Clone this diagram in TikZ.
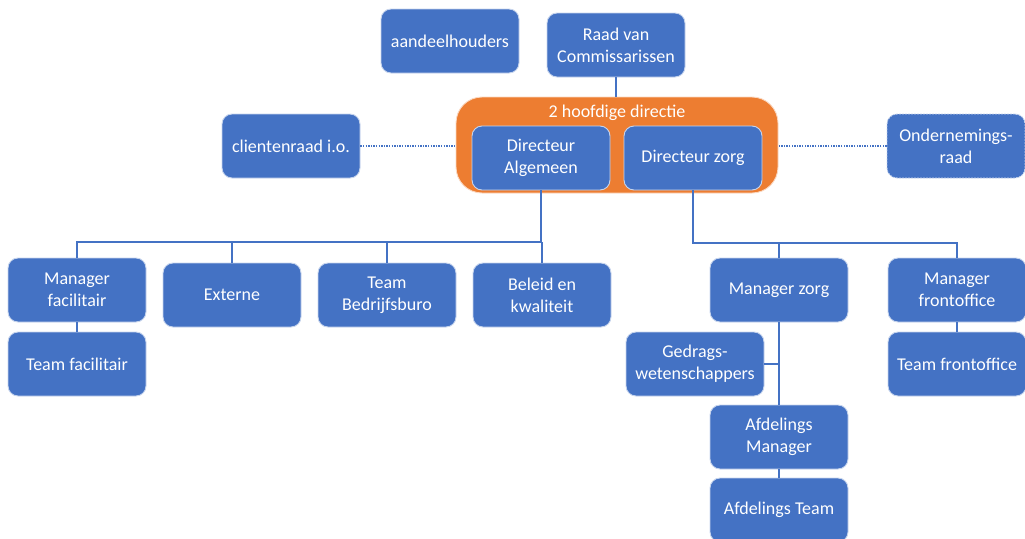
\documentclass[tikz,border=0pt]{standalone}
\usepackage{fontspec}
\setmainfont{Carlito}
\definecolor{obl}{HTML}{4472C4}
\definecolor{oor}{HTML}{ED7D31}
\begin{document}
\begin{tikzpicture}[x=1pt,y=-1pt,
  box/.style={rectangle, rounded corners=10pt, fill=obl, draw=white!70!obl, line width=0.9pt,
    minimum width=138pt, minimum height=64pt, inner sep=2pt, align=center,
    text=white, font=\fontsize{18}{22}\selectfont},
  link/.style={draw=obl, line width=1.2pt},
  dots/.style={draw=obl, line width=1.5pt, dash pattern=on 1.3pt off 1.3pt}]
\useasboundingbox (0,0) rectangle (1025,538);
% orange group
\node[rectangle, rounded corners=26pt, fill=oor, draw=white!70!oor, line width=0.9pt,
  minimum width=322pt, minimum height=96pt] (dir) at (617,145) {};
\node[text=white, font=\fontsize{18}{22}\selectfont, inner sep=0pt] (dirt) at (617,113) {2 hoofdige directie};
\node[box] (da) at (541,158) {Directeur\\Algemeen};
\node[box] (dz) at (693,158) {Directeur zorg};
% top
\node[box] (ah) at (450,41) {aandeelhouders};
\node[box] (rvc) at (616,45) {Raad van\\Commissarissen};
\node[box] (cr) at (291,146) {clientenraad i.o.};
\node[box, dash pattern=on 2pt off 1pt] (or) at (956,146) {Ondernemings-\\raad};
% left branch
\node[box] (mf) at (77,290) {Manager\\facilitair};
\node[box] (tf) at (77,364) {Team facilitair};
\node[box] (ex) at (232,295) {Externe};
\node[box] (tb) at (387,295) {Team\\Bedrijfsburo};
\node[box] (bk) at (542,295) {Beleid en\\kwaliteit};
% right branch
\node[box] (mz) at (779,290) {Manager zorg};
\node[box] (mfo) at (957,290) {Manager\\frontoffice};
\node[box] (tfo) at (957,364) {Team frontoffice};
\node[box] (gw) at (695,364) {Gedrags-\\wetenschappers};
\node[box] (am) at (779,437) {Afdelings\\Manager};
\node[box] (at) at (779,510) {Afdelings Team};
% connectors
\coordinate (b1) at (541,242);
\coordinate (b2) at (693,243);
\draw[link] (rvc.south) -- (rvc.south |- dir.north);
\draw[dots] (cr.east) -- (cr.east -| dir.west);
\draw[dots] (or.west) -- (or.west -| dir.east);
\draw[link] (da.south) -- (da.south |- b1) -- (mf.north |- b1) -- (mf.north);
\draw[link] (ex.north |- b1) -- (ex.north);
\draw[link] (tb.north |- b1) -- (tb.north);
\draw[link] (bk.north |- b1) -- (bk.north);
\draw[link] (mf.south) -- (tf.north);
\draw[link] (dz.south) -- (dz.south |- b2) -- (mfo.north |- b2) -- (mfo.north);
\draw[link] (mz.north |- b2) -- (mz.north);
\draw[link] (mfo.south) -- (tfo.north);
\draw[link] (mz.south) -- (am.north);
\draw[link] (gw.east) -- (gw.east -| mz.south);
\draw[link] (am.south) -- (at.north);
\end{tikzpicture}
\end{document}
